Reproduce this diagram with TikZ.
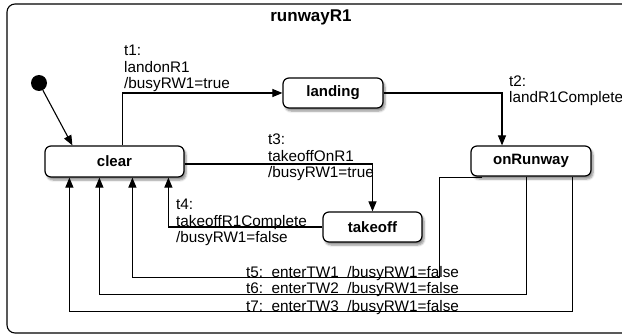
\documentclass[tikz,border=0pt]{standalone}
\usepackage{fontspec}
\setmainfont{Liberation Sans}
\usetikzlibrary{arrows.meta,shadows.blur}

\tikzset{
  state/.style={draw, line width=1.2pt, rounded corners=6pt, fill=white,
    font=\fontsize{15}{17}\selectfont\bfseries, inner sep=0pt,
    blur shadow={shadow xshift=2pt, shadow yshift=-3pt, shadow blur steps=6, shadow opacity=45}},
  trans/.style={draw, line width=1.1pt, -{Triangle[length=10pt,width=8pt]}},
  % multi-line labels are placed by the baseline of their last line
  lab/.style={anchor=base west, inner sep=0pt, align=left,
    font=\fontsize{15.3}{16.8}\selectfont},
}

\begin{document}
\begin{tikzpicture}[x=1pt, y=-1pt]
  \useasboundingbox (0,0) rectangle (622,334);

  % enclosing composite state
  \draw[line width=1.1pt, rounded corners=8pt] (7,4) rectangle (630,333);
  \node[anchor=base, inner sep=0pt, font=\fontsize{17}{17}\selectfont\bfseries] (title) at (311,22) {runwayR1};

  % states
  \node[circle, fill=black, minimum size=16pt, inner sep=0pt] (init) at (39,83) {};
  \node[state, minimum width=139pt, minimum height=31pt] (clear) at (114.5,161.5) {clear};
  \node[state, minimum width=100pt, minimum height=30pt] (landing) at (333,93) {landing};
  \node[state, minimum width=120pt, minimum height=30pt] (onRunway) at (531,161) {onRunway};
  \node[state, minimum width=99pt, minimum height=30pt] (takeoff) at (372.5,227) {takeoff};

  % transitions
  \draw[trans] (init) -- ([xshift=28pt]clear.north west);
  \draw[trans] ([xshift=78pt]clear.north west) |- (landing.west);
  \draw[trans] (landing.east) -| ([xshift=-29pt]onRunway.north);
  \draw[trans] ([yshift=-2.5pt]clear.east) -| (takeoff.north);
  \draw[trans] (takeoff.west) -| ([xshift=124pt]clear.south west);
  \draw[trans] ([xshift=12pt,yshift=-1pt]onRunway.south west) -- ++(-43,0) -- ++(0,100) -| ([xshift=88pt]clear.south west);
  \draw[trans] ([xshift=56pt]onRunway.south west) -- ++(0,118) -| ([xshift=55pt]clear.south west);
  \draw[trans] ([xshift=102pt]onRunway.south west) -- ++(0,135) -| ([xshift=25pt]clear.south west);

  % transition labels
  \node[lab] (l1) at (124,89) {t1:\\landonR1\\/busyRW1=true};
  \node[lab] (l2) at (509,103) {t2:\\landR1Complete};
  \node[lab] (l3) at (268,178) {t3:\\takeoffOnR1\\/busyRW1=true};
  \node[lab] (l4) at (176,243) {t4:\\takeoffR1Complete\\/busyRW1=false};
  \node[lab] (l5) at (246,277) {t5:\ \ enterTW1\ \ /busyRW1=false};
  \node[lab] (l6) at (246,294) {t6:\ \ enterTW2\ \ /busyRW1=false};
  \node[lab] (l7) at (246,311) {t7:\ \ enterTW3\ \ /busyRW1=false};
\end{tikzpicture}
\end{document}
